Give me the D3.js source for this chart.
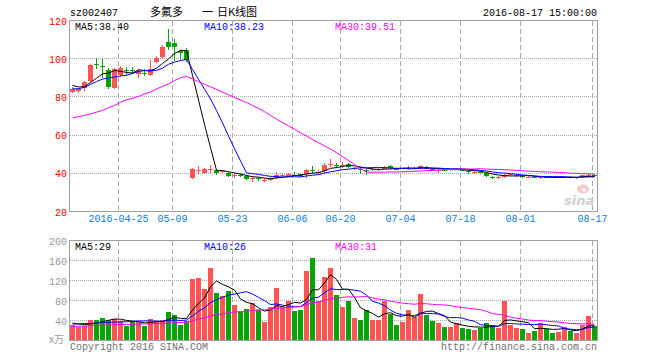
<!DOCTYPE html>
<html><head><meta charset="utf-8">
<script src="https://cdn.jsdelivr.net/npm/d3@7"></script>
<style>body{margin:0;background:#fff}svg{display:block}</style>
</head><body><svg id="c" width="660" height="360"></svg>
<script>
const dates = ["2016-04-13","2016-04-14","2016-04-15","2016-04-18","2016-04-19","2016-04-20","2016-04-21","2016-04-22",
"2016-04-25","2016-04-26","2016-04-27","2016-04-28","2016-04-29","2016-05-03","2016-05-04","2016-05-05","2016-05-06",
"2016-05-09","2016-05-10","2016-05-11","2016-05-12","2016-05-13","2016-05-16","2016-05-17","2016-05-18","2016-05-19","2016-05-20",
"2016-05-23","2016-05-24","2016-05-25","2016-05-26","2016-05-27","2016-05-30","2016-05-31","2016-06-01","2016-06-02","2016-06-03",
"2016-06-06","2016-06-07","2016-06-08","2016-06-13","2016-06-14","2016-06-15","2016-06-16","2016-06-17",
"2016-06-20","2016-06-21","2016-06-22","2016-06-23","2016-06-24","2016-06-27","2016-06-28","2016-06-29","2016-06-30","2016-07-01",
"2016-07-04","2016-07-05","2016-07-06","2016-07-07","2016-07-08","2016-07-11","2016-07-12","2016-07-13","2016-07-14","2016-07-15",
"2016-07-18","2016-07-19","2016-07-20","2016-07-21","2016-07-22","2016-07-25","2016-07-26","2016-07-27","2016-07-28","2016-07-29",
"2016-08-01","2016-08-02","2016-08-03","2016-08-04","2016-08-05","2016-08-08","2016-08-09","2016-08-10","2016-08-11","2016-08-12",
"2016-08-15","2016-08-16","2016-08-17"];
const opens = [82.8,83.0,84.4,88.4,97.0,96.0,94.3,84.6,91.6,94.1,94.3,92.2,92.6,91.3,98.2,100.8,108.7,108.0,103.8,104.6,
37.8,41.3,40.2,41.8,41.6,40.9,40.1,38.8,39.3,38.4,37.3,37.6,36.5,37.0,37.5,38.7,38.5,39.3,39.4,39.5,
41.5,40.5,41.0,44.7,44.2,44.2,45.0,42.5,42.3,41.6,41.8,41.9,42.3,44.0,42.4,42.5,42.8,42.6,42.7,43.2,
42.2,41.6,41.9,41.8,41.9,41.8,41.0,40.2,40.6,40.1,38.0,37.7,38.3,39.2,38.7,38.8,38.1,38.2,37.9,38.0,
37.9,37.7,37.8,38.1,37.8,38.0,39.0,39.2];
const highs = [85.0,84.5,88.3,97.2,100.2,100.0,95.2,95.0,96.2,95.6,95.6,94.6,94.7,99.5,101.2,107.0,115.6,110.4,104.5,105.7,
42.7,43.6,43.0,44.2,42.2,41.8,40.6,39.6,40.0,39.0,38.4,38.3,37.5,38.0,40.5,39.8,40.2,40.6,39.8,42.0,
44.0,41.8,45.5,47.6,45.5,45.8,45.2,43.5,43.2,42.3,42.7,42.8,44.0,44.2,42.8,43.0,44.0,43.2,44.5,44.0,
42.6,42.3,42.2,42.4,42.6,42.2,41.6,41.0,41.0,40.5,38.4,38.6,39.8,39.8,39.5,39.0,38.8,38.4,38.6,38.3,
38.2,38.2,38.5,38.4,38.3,39.2,39.8,39.4];
const lows = [82.0,82.3,83.0,87.8,94.8,89.8,84.0,84.0,90.2,91.6,92.2,89.8,91.0,90.9,97.5,100.0,104.3,99.0,99.5,98.2,
37.1,39.7,39.5,40.2,39.0,40.0,38.0,37.5,38.0,36.3,35.7,36.0,35.4,36.0,37.0,38.0,38.0,38.5,38.3,37.5,
39.7,39.2,40.0,43.2,42.9,42.7,43.0,41.8,39.7,38.9,41.3,41.2,42.0,42.0,41.8,42.0,41.8,42.0,42.0,42.0,
41.6,40.0,41.3,41.3,41.5,41.0,39.8,39.8,39.6,38.0,37.2,37.0,37.8,38.8,38.2,37.6,37.8,37.5,36.9,37.3,
37.3,37.3,37.5,37.6,37.2,37.8,38.3,38.2];
const closes = [84.2,83.9,87.6,96.8,96.7,95.6,85.2,94.5,95.1,93.8,94.0,93.8,92.2,94.7,100.4,106.2,106.0,106.0,103.2,99.4,
42.0,41.5,42.0,42.1,40.3,41.1,38.4,39.0,39.1,36.9,37.5,37.4,36.7,37.2,39.2,38.9,39.7,39.1,38.6,41.8,
41.3,40.7,44.1,45.0,44.0,44.4,43.2,42.7,42.0,41.4,42.0,42.1,43.5,42.7,42.3,42.7,43.0,42.7,43.7,42.3,
42.0,41.8,41.8,42.0,42.1,41.6,40.6,40.7,40.4,38.5,37.7,38.0,39.2,39.4,38.9,38.0,38.3,37.8,38.0,37.8,
37.6,38.0,38.1,37.8,38.0,39.0,39.3,38.4];
const volumes = [32,28,30,42,42,46,42,43,40,30,39,37,30,43,39,41,57,52,32,39,
123,126,104,146,96,90,100,72,57,63,75,61,38,68,106,67,80,60,62,140,
166,79,128,146,92,68,79,46,42,62,42,42,79,53,32,37,62,47,93,52,
40,36,28,28,36,26,24,22,26,36,32,26,80,32,26,24,16,20,36,23,
16,18,28,20,16,32,50,30];
const ma5 = [86.0,85.2,85.3,87.5,89.8,92.1,92.4,93.8,93.4,92.8,92.5,94.2,93.8,93.7,95.0,97.5,99.9,102.7,104.4,104.2,
91.3,78.4,65.6,53.4,41.6,41.4,40.8,40.2,39.6,38.9,38.2,38.0,37.5,37.1,37.6,37.9,38.3,38.8,39.1,39.6,
40.1,40.3,41.3,42.6,43.0,43.6,44.1,43.9,43.3,42.7,42.3,42.0,42.2,42.3,42.5,42.7,42.8,42.7,42.9,42.9,
42.7,42.5,42.3,42.0,41.9,41.9,41.6,41.4,41.1,40.4,39.6,39.1,38.8,38.6,38.6,38.7,38.8,38.5,38.2,38.0,
37.9,37.8,37.9,37.9,37.9,38.2,38.4,38.4];
const ma10 = [84.2,84.3,85.0,86.6,88.0,89.3,89.9,90.4,91.0,91.3,92.3,93.3,93.8,93.6,93.9,95.0,97.1,98.2,99.0,99.6,
94.4,89.2,84.1,78.9,72.9,66.4,59.6,52.9,46.5,40.2,39.8,39.4,38.9,38.4,38.3,38.0,38.2,38.2,38.1,38.6,
39.0,39.3,40.1,40.8,41.3,41.9,42.2,42.6,42.9,42.9,43.0,43.1,43.0,42.8,42.6,42.5,42.4,42.4,42.6,42.7,
42.7,42.7,42.5,42.4,42.4,42.3,42.1,41.9,41.5,41.2,40.7,40.3,40.1,39.8,39.5,39.1,38.9,38.6,38.4,38.3,
38.3,38.3,38.2,38.0,37.9,38.0,38.1,38.2];
const ma30 = [69.0,69.7,70.3,71.1,72.0,72.9,74.3,75.5,77.2,78.5,79.3,80.2,81.6,82.5,84.2,85.5,86.8,88.6,90.0,90.7,
89.4,88.0,86.6,85.3,83.9,82.5,81.1,79.8,78.4,77.1,75.5,74.0,72.3,70.3,68.4,66.5,64.9,63.1,61.2,59.5,
57.7,56.0,54.4,52.7,50.8,48.8,46.7,44.6,42.5,40.6,40.6,40.6,40.6,40.7,40.7,40.8,40.9,41.1,41.2,41.4,
41.5,41.7,41.9,42.0,42.1,42.2,42.2,42.3,42.4,42.2,42.1,42.0,41.9,41.7,41.5,41.3,41.1,41.0,40.8,40.7,
40.6,40.4,40.3,40.1,40.0,39.8,39.7,39.5];
const vma5 = [35,33,32,33,34.8,37.6,40.4,43,42.6,40.2,38.8,37.8,35.2,35.8,37.6,38,42,46.4,44.2,44.2,
60.6,74.4,84.8,107.6,119,112.4,107.2,100.8,83,76.4,73.4,65.6,58.8,61,69.6,68,71.8,76.2,75,81.8,
101.6,101.4,115,131.8,122.2,102.6,102.6,86.2,65.4,59.4,54.2,46.8,53.4,55.6,49.6,48.6,52.6,46.2,54.2,58.2,
58.8,53.6,49.8,36.8,33.6,30.8,28.4,27.2,26.8,26.8,28,28.4,40,41.2,39.2,37.6,35.6,23.6,24.4,23.8,
22.2,22.6,24.2,21,19.6,22.8,29.2,29.6];
const vma10 = [33,33,34,34,35,35.5,36,37,37,37.5,38.2,39.1,39.1,39.2,38.9,38.4,39.9,40.8,40,40.9,
49.3,58.2,65.6,75.9,81.6,86.5,90.8,92.8,95.3,97.7,92.9,86.4,79.8,72,73,70.7,68.7,67.5,68,75.7,
84.8,86.6,95.6,103.4,102,102.1,102,100.6,98.6,90.8,78.4,74.7,69.8,60.5,54.5,51.4,49.7,49.8,54.9,53.9,
53.7,53.1,48,45.5,45.9,44.8,41,38.5,31.8,30.2,29.4,28.4,33.6,34,33,32.8,32,31.8,32.8,31.5,
29.9,29.1,23.9,22.7,21.7,22.5,25.9,26.9];
const vma30 = [28,28.5,29,29.5,30,30.5,31,31.5,32,32,32.5,33,33,33.5,34,34,35,35.5,36,36.5,
39.5,42.7,45.2,49.1,51.3,53.3,55.6,56.9,57.8,58.7,60.1,61.2,61.5,62.4,64.5,65.2,66.5,67,67.8,71.4,
75.7,77.1,80.3,83.8,85.5,86.4,87.2,87,87.3,88.1,85.4,82.6,81.7,78.6,76.5,74.7,73.5,72.6,73.8,73.5,
72.3,71.5,71.1,69.8,67.5,66.1,64.2,63,61.8,58.3,53.8,52.1,50.5,46.7,44.5,43,40.9,40,39.8,38.5,
37.7,36.9,35.2,34.1,33.5,33.4,33,32.4];
const priceTicks = [20,40,60,80,100,120];
const volTicks = [40,80,120,160,200];
const tickDates = ["2016-04-25","2016-05-09","2016-05-23","2016-06-06","2016-06-20","2016-07-04","2016-07-18","2016-08-01","2016-08-17"];
const tickLabels = ["2016-04-25","05-09","05-23","06-06","06-20","07-04","07-18","08-01","08-17"];
const priceLegend = ["MA5:38.40","MA10:38.23","MA30:39.51"];
const volLegend = ["MA5:29","MA10:26","MA30:31"];
const code = "sz002407";
const titleParts = ["多氟多","一","日K线图"];
const stamp = "2016-08-17 15:00:00";

const RED = "#fe5454", GREEN = "#07a307", GRID = "#a8a8a8", FRAME = "#a0a0a0";
const LCOL = ["#000000","#0000ff","#ff00ff"];
const MONO = "'Liberation Mono','DejaVu Sans Mono',monospace";
const CJK = "'Noto Sans CJK SC',sans-serif";

const svg = d3.select("#c");
const x = d3.scaleBand().domain(dates).range([70, 597]).paddingInner(1/6).paddingOuter(0).align(0);
const bw = x.bandwidth();
const yP = d3.scaleLinear().domain([20, 120]).range([211.5, 20.5]);
const yV = d3.scaleLinear().domain([0, 200]).range([340.5, 240.5]);
const cx = d => x(d) + bw / 2;

function panel(y, ticks, top, bottom) {
  const g = svg.append("g").attr("shape-rendering", "crispEdges");
  g.selectAll("line.h").data(ticks).join("line")
    .attr("x1", 70).attr("x2", 597).attr("y1", d => y(d)).attr("y2", d => y(d))
    .attr("stroke", GRID).attr("stroke-dasharray", "1,1");
  g.selectAll("line.v").data(tickDates).join("line")
    .attr("x1", d => Math.floor(x(d)) + 0.5).attr("x2", d => Math.floor(x(d)) + 0.5)
    .attr("y1", top).attr("y2", bottom)
    .attr("stroke", GRID).attr("stroke-dasharray", "5,3");
}
panel(yP, priceTicks.slice(1, -1), 21, 211);
panel(yV, volTicks.slice(0, -1), 241, 340);

// sina watermark
const wm = svg.append("g");
wm.append("ellipse").attr("cx", 583).attr("cy", 189).attr("rx", 6).attr("ry", 4.5).attr("fill", "#f6c8c8");
wm.append("ellipse").attr("cx", 584).attr("cy", 190).attr("rx", 2.2).attr("ry", 1.8).attr("fill", "#fff");
wm.append("text").attr("x", 564).attr("y", 205).text("sina")
  .attr("font-family", "'DejaVu Sans',sans-serif").attr("font-weight", "bold").attr("font-style", "italic")
  .attr("font-size", 13).attr("fill", "#cfcfcf");

// candles
const idx = d3.range(dates.length);
const up = i => closes[i] >= opens[i];
const cg = svg.append("g").attr("shape-rendering", "crispEdges");
cg.selectAll("line").data(idx).join("line")
  .attr("x1", i => cx(dates[i])).attr("x2", i => cx(dates[i]))
  .attr("y1", i => yP(highs[i])).attr("y2", i => yP(lows[i]))
  .attr("stroke", i => up(i) ? RED : GREEN);
cg.selectAll("rect").data(idx).join("rect")
  .attr("x", i => x(dates[i])).attr("width", bw)
  .attr("y", i => Math.min(yP(opens[i]), yP(closes[i])))
  .attr("height", i => Math.max(1, Math.abs(yP(opens[i]) - yP(closes[i]))))
  .attr("fill", i => up(i) ? RED : GREEN);

// volume bars
svg.append("g").attr("shape-rendering", "crispEdges")
  .selectAll("rect").data(idx).join("rect")
  .attr("x", i => x(dates[i])).attr("width", bw)
  .attr("y", i => yV(volumes[i])).attr("height", i => yV(0) - 0.5 - yV(volumes[i]))
  .attr("fill", i => up(i) ? RED : GREEN);

// MA lines
function maLine(y, series) {
  const line = d3.line().x((v, i) => cx(dates[i])).y(v => y(v));
  series.forEach((s, k) => {
    svg.append("path").attr("d", line(s)).attr("fill", "none")
      .attr("stroke", LCOL[k]).attr("stroke-width", 1);
  });
}
maLine(yP, [ma5, ma10, ma30]);
maLine(yV, [vma5, vma10, vma30]);

// frames
const fg = svg.append("g").attr("shape-rendering", "crispEdges");
fg.append("rect").attr("x", 69.5).attr("y", 20.5).attr("width", 528).attr("height", 191)
  .attr("fill", "none").attr("stroke", FRAME);
fg.append("rect").attr("x", 69.5).attr("y", 240.5).attr("width", 528).attr("height", 100)
  .attr("fill", "none").attr("stroke", FRAME);

function txt(xp, yp, s, fill, anchor, size, fam) {
  return svg.append("text").attr("x", xp).attr("y", yp).text(s)
    .attr("fill", fill).attr("text-anchor", anchor || "start")
    .attr("font-size", size || 10).attr("font-family", fam || MONO);
}
// axes
const ay = svg.append("g").attr("transform", "translate(67,0)")
  .call(d3.axisLeft(yP).tickValues(priceTicks).tickSize(0).tickPadding(0).tickFormat(d3.format("d")));
ay.select(".domain").remove();
ay.selectAll("text").attr("fill", "#ff0000").attr("font-family", MONO).attr("font-size", 10).attr("dy", "0.35em");

const av = svg.append("g").attr("transform", "translate(67,0)")
  .call(d3.axisLeft(yV).tickValues(volTicks).tickSize(0).tickPadding(0).tickFormat(d3.format("d")));
av.select(".domain").remove();
av.selectAll("text").attr("fill", "#999999").attr("font-family", MONO).attr("font-size", 10).attr("dy", "0.35em");

const ax = svg.append("g").attr("transform", "translate(0,215)")
  .call(d3.axisBottom(x).tickValues(tickDates).tickSize(0).tickPadding(0)
    .tickFormat(d => tickLabels[tickDates.indexOf(d)]));
ax.select(".domain").remove();
ax.selectAll(".tick").attr("transform", d => `translate(${Math.floor(x(d)) + 0.5},0)`);
ax.selectAll("text").attr("fill", "#0a80d8").attr("font-family", MONO).attr("font-size", 10).attr("dy", "0.71em");

// legends
const legX = [75, 204, 335];
priceLegend.forEach((s, k) => txt(legX[k], 29.5, s, LCOL[k]));
volLegend.forEach((s, k) => txt(legX[k], 249.5, s, LCOL[k]));

// header
txt(70, 16, code, "#000");
txt(597, 16, stamp, "#000", "end");
txt(150, 16, titleParts[0], "#000", "start", 11, CJK);
txt(202, 16, titleParts[1], "#000", "start", 11, CJK);
txt(217, 16, titleParts[2], "#000", "start", 11, CJK);

// unit & footer
txt(64, 343, "x万", "#999999", "end", 10, CJK);
txt(70, 350, "Copyright 2016 SINA.COM", "#707070");
txt(597, 350, "http://finance.sina.com.cn", "#707070", "end");
</script></body></html>
